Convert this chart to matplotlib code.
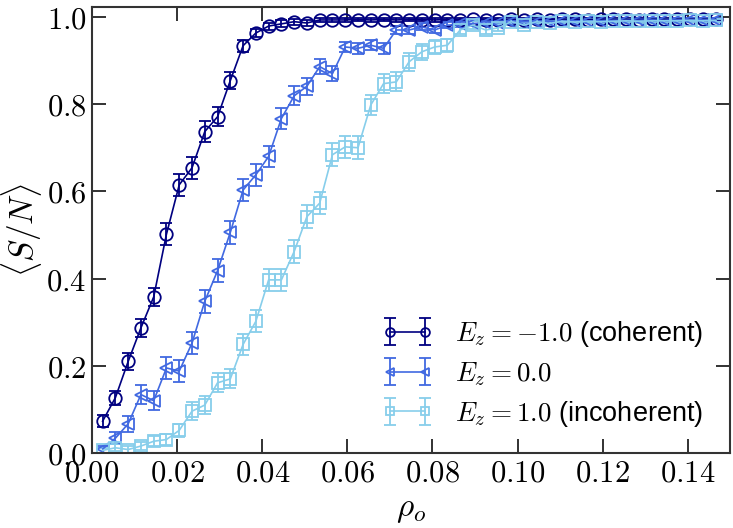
import numpy as np
import matplotlib
matplotlib.use("Agg")
import matplotlib.pyplot as plt
from matplotlib.ticker import FuncFormatter, MultipleLocator

plt.rcParams['mathtext.fontset'] = 'cm'
plt.rcParams['font.family'] = ['Liberation Sans', 'DejaVu Sans']

rho = [0.0025, 0.0055, 0.0085, 0.0115, 0.0145, 0.0175, 0.0205, 0.0235, 0.0265, 0.0295,
       0.0325, 0.0355, 0.0385, 0.0415, 0.0445, 0.0475, 0.0505, 0.0535, 0.0565, 0.0595,
       0.0625, 0.0655, 0.0685, 0.0715, 0.0745, 0.0775, 0.0805, 0.0835, 0.0865, 0.0895,
       0.0925, 0.0955, 0.0985, 0.1015, 0.1045, 0.1075, 0.1105, 0.1135, 0.1165, 0.1195,
       0.1225, 0.1255, 0.1285, 0.1315, 0.1345, 0.1375, 0.1405, 0.1435, 0.1465]

s_coh = [0.073, 0.127, 0.210, 0.287, 0.358, 0.502, 0.615, 0.654, 0.737, 0.771,
         0.854, 0.934, 0.963, 0.979, 0.984, 0.989, 0.986, 0.993, 0.993, 0.993,
         0.994, 0.993, 0.994, 0.993, 0.994, 0.994, 0.993, 0.994, 0.994, 0.995,
         0.994, 0.994, 0.995, 0.994, 0.995, 0.994, 0.995, 0.995, 0.994, 0.995,
         0.995, 0.995, 0.994, 0.995, 0.995, 0.995, 0.995, 0.995, 0.995]
e_coh = [0.014, 0.016, 0.020, 0.020, 0.020, 0.025, 0.025, 0.025, 0.024, 0.022,
         0.020, 0.014, 0.010, 0.008, 0.008, 0.007, 0.007, 0.005, 0.005, 0.005,
         0.004, 0.004, 0.004, 0.004, 0.004, 0.004, 0.004, 0.004, 0.004, 0.003,
         0.003, 0.003, 0.003, 0.003, 0.003, 0.003, 0.003, 0.003, 0.003, 0.003,
         0.003, 0.003, 0.003, 0.003, 0.003, 0.003, 0.003, 0.003, 0.003]

s_mid = [0.009, 0.034, 0.067, 0.134, 0.120, 0.195, 0.188, 0.252, 0.348, 0.418,
         0.506, 0.603, 0.638, 0.680, 0.767, 0.819, 0.841, 0.886, 0.870, 0.931,
         0.928, 0.935, 0.928, 0.970, 0.970, 0.977, 0.970, 0.981, 0.983, 0.985,
         0.986, 0.987, 0.988, 0.989, 0.989, 0.990, 0.990, 0.991, 0.991, 0.991,
         0.992, 0.992, 0.992, 0.993, 0.992, 0.993, 0.993, 0.993, 0.993]
e_mid = [0.008, 0.014, 0.018, 0.022, 0.022, 0.025, 0.025, 0.025, 0.026, 0.026,
         0.026, 0.026, 0.025, 0.025, 0.024, 0.022, 0.020, 0.018, 0.018, 0.012,
         0.012, 0.012, 0.012, 0.009, 0.009, 0.008, 0.008, 0.007, 0.006, 0.006,
         0.005, 0.005, 0.005, 0.005, 0.004, 0.004, 0.004, 0.004, 0.004, 0.004,
         0.004, 0.004, 0.004, 0.004, 0.004, 0.004, 0.004, 0.004, 0.004]

s_inc = [0.006, 0.012, 0.008, 0.016, 0.027, 0.031, 0.052, 0.096, 0.110, 0.161,
         0.170, 0.249, 0.302, 0.397, 0.397, 0.462, 0.542, 0.573, 0.684, 0.702,
         0.700, 0.798, 0.847, 0.851, 0.897, 0.920, 0.931, 0.935, 0.970, 0.981,
         0.970, 0.975, 0.989, 0.981, 0.989, 0.985, 0.990, 0.988, 0.990, 0.989,
         0.990, 0.991, 0.990, 0.991, 0.991, 0.991, 0.992, 0.991, 0.992]
e_inc = [0.006, 0.008, 0.008, 0.010, 0.012, 0.012, 0.015, 0.020, 0.020, 0.022,
         0.022, 0.024, 0.025, 0.026, 0.026, 0.026, 0.026, 0.026, 0.026, 0.026,
         0.026, 0.024, 0.022, 0.022, 0.020, 0.018, 0.016, 0.015, 0.010, 0.009,
         0.009, 0.008, 0.007, 0.007, 0.006, 0.006, 0.005, 0.005, 0.005, 0.005,
         0.005, 0.004, 0.004, 0.004, 0.004, 0.004, 0.004, 0.004, 0.004]

series = [
    (s_coh, e_coh, 'o', '#000080', r'$E_z=-1.0$ (coherent)'),
    (s_mid, e_mid, '<', '#4169E1', r'$E_z=0.0$'),
    (s_inc, e_inc, 's', '#87CEEB', r'$E_z=1.0$ (incoherent)'),
]

fig = plt.figure(figsize=(7.33, 5.28), dpi=100)
ax = fig.add_axes([0.1255, 0.142, 0.871, 0.845])

for y, err, m, c, lab in series:
    ax.errorbar(rho, y, yerr=err, marker=m, color=c, mfc='none', mec=c,
                markersize=9, mew=1.3, lw=1.2, elinewidth=1.3, capsize=4,
                capthick=1.3, label=lab)

ax.set_xlim(0, 0.15)
ax.set_ylim(0, 1.023)
ax.xaxis.set_major_locator(MultipleLocator(0.02))
ax.yaxis.set_major_locator(MultipleLocator(0.2))
ax.xaxis.set_major_formatter(FuncFormatter(lambda v, p: f'${v:.2f}$'))
ax.yaxis.set_major_formatter(FuncFormatter(lambda v, p: f'${v:.1f}$'))
ax.tick_params(direction='in', length=10, width=1.3, top=True, right=True,
               labelsize=22, pad=4, color='#222222')
for sp in ax.spines.values():
    sp.set_linewidth(1.5)
    sp.set_color('#333333')

ax.set_xlabel(r'$\rho_o$', fontsize=24, labelpad=4)
ax.set_ylabel(r'$\langle S/N\rangle$', fontsize=24, labelpad=2)

ax.legend(loc='lower right', bbox_to_anchor=(0.995, 0.0), frameon=False,
          numpoints=2, fontsize=19.5, handlelength=1.9, labelspacing=0.4,
          handletextpad=0.8, markerscale=0.7)

fig.savefig('out.png', dpi=100)
